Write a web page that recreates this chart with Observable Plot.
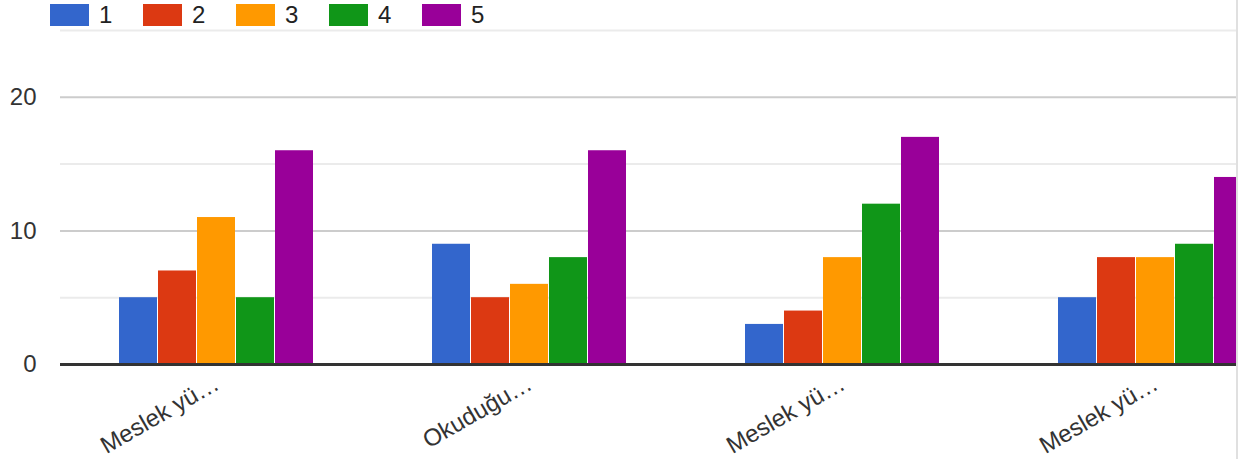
<!DOCTYPE html>
<html><head><meta charset="utf-8">
<script src="https://cdn.jsdelivr.net/npm/d3@7"></script>
<script src="https://cdn.jsdelivr.net/npm/@observablehq/plot@0.6"></script>
<style>
body{margin:0;background:#fff;font-family:"Liberation Sans",Arial,sans-serif;}
#wrap{position:relative;width:1236px;height:459px;overflow:hidden;border-right:2px solid #e0e0e0;}
#chart{position:absolute;left:0;top:0;width:1312px;}
#chart svg{max-width:none !important;}
#legend{position:absolute;left:50px;top:4px;display:flex;}
.item{display:flex;align-items:center;width:93px;height:22px;}
.sw{width:39px;height:22px;margin-right:10px;}
.lb{font-size:24px;line-height:22px;color:#222;}
</style></head><body>
<div id="wrap"><div id="chart"></div><div id="legend"></div></div>
<script>
const questions = ["q1", "q2", "q3", "q4"];
const questionLabels = ["Meslek yü…", "Okuduğu…", "Meslek yü…", "Meslek yü…"];
const series = ["1", "2", "3", "4", "5"];
const colors = ["#3366cc", "#dc3912", "#ff9900", "#109618", "#990099"];
const values1 = [5, 9, 3, 5];
const values2 = [7, 5, 4, 8];
const values3 = [11, 6, 8, 8];
const values4 = [5, 8, 12, 9];
const values5 = [16, 16, 17, 14];
const yTicks = [0, 10, 20];
const majorGrid = [10, 20];
const minorGrid = [5, 15, 25];

const seriesValues = [values1, values2, values3, values4, values5];
const data = [];
questions.forEach((q, qi) => series.forEach((s, si) => data.push({q, s, v: seriesValues[si][qi]})));

const chart = Plot.plot({
  width: 1312, height: 459,
  marginLeft: 60, marginRight: 0, marginTop: 30, marginBottom: 95,
  style: {fontFamily: "'Liberation Sans', Arial, sans-serif", fontSize: "24px", color: "#333", background: "transparent", overflow: "visible", maxWidth: "none"},
  facet: {data, x: "q"},
  fx: {domain: questions, padding: 0, label: null, axis: "bottom", tickSize: 0, tickPadding: 17, tickRotate: -30,
       tickFormat: d => questionLabels[questions.indexOf(d)]},
  x: {domain: series, axis: null, paddingInner: 0, paddingOuter: 1.47},
  y: {domain: [0, 25], ticks: yTicks, tickSize: 0, tickPadding: 24, label: null},
  color: {domain: series, range: colors},
  marks: [
    Plot.ruleY(minorGrid, {stroke: "#ebebeb", strokeWidth: 2}),
    Plot.ruleY(majorGrid, {stroke: "#cccccc", strokeWidth: 2}),
    Plot.barY(data, {x: "s", y: "v", fill: "s", insetRight: 1}),
    Plot.ruleY([0], {stroke: "#333", strokeWidth: 3})
  ]
});
chart.style.maxWidth = "none";
document.getElementById("chart").appendChild(chart);

const legend = document.getElementById("legend");
series.forEach((s, i) => {
  const it = document.createElement("div"); it.className = "item";
  const sw = document.createElement("div"); sw.className = "sw"; sw.style.background = colors[i];
  const lb = document.createElement("span"); lb.className = "lb"; lb.textContent = s;
  it.appendChild(sw); it.appendChild(lb); legend.appendChild(it);
});
</script>
</body></html>
